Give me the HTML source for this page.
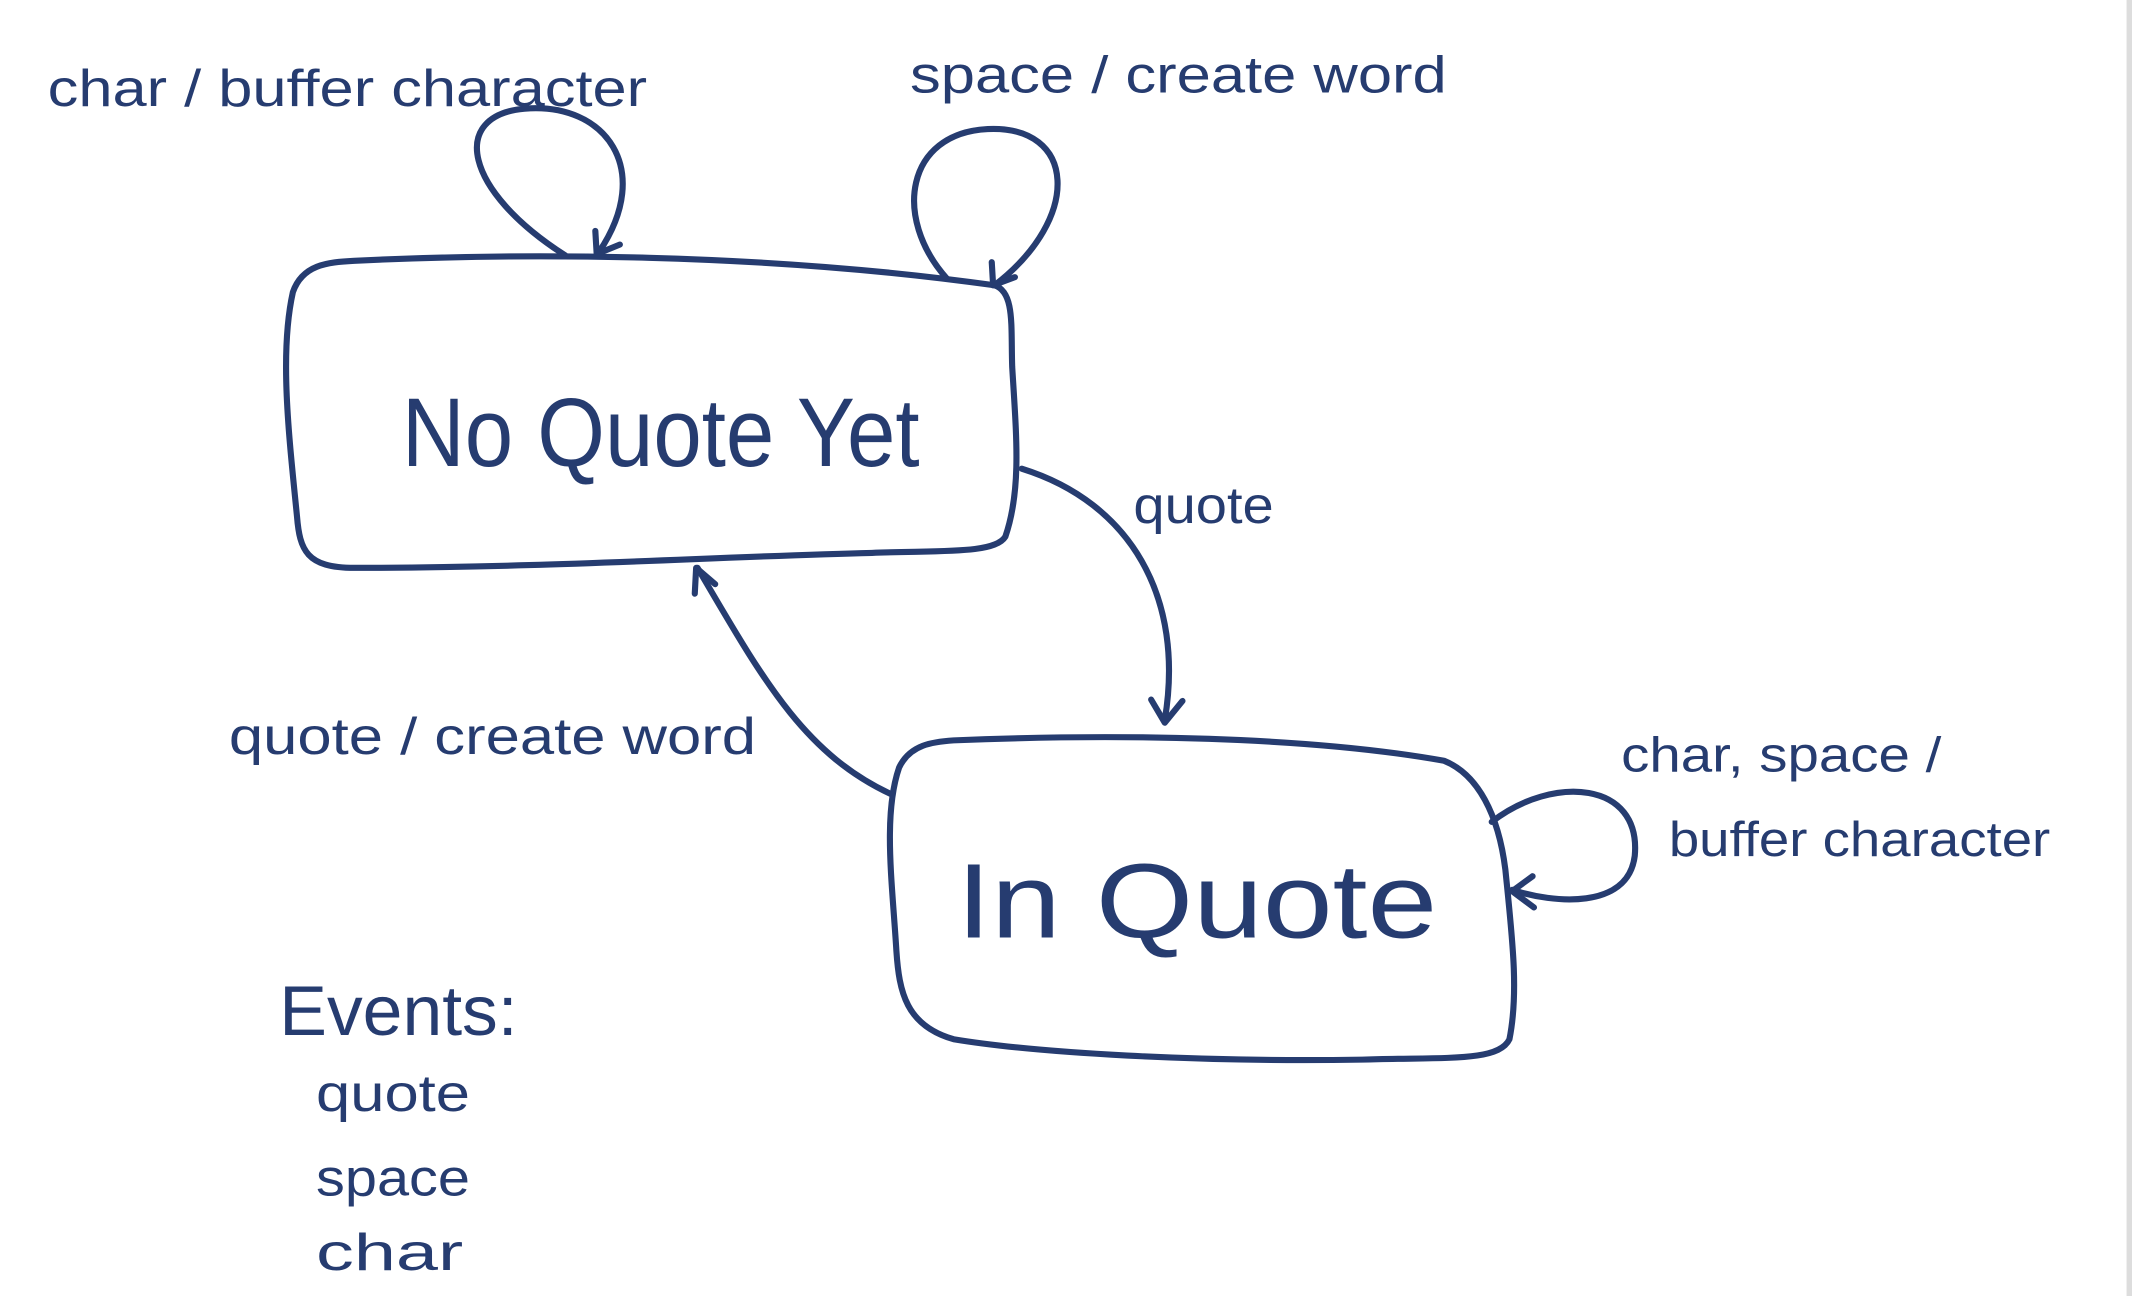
<!DOCTYPE html>
<html><head><meta charset="utf-8"><style>
html,body{margin:0;padding:0;background:#fff;width:2132px;height:1296px;overflow:hidden}
svg{display:block}
text{font-family:"Liberation Sans",sans-serif;fill:#263c70}
</style></head><body>
<svg width="2132" height="1296" viewBox="0 0 1565 954" preserveAspectRatio="none">
<rect x="1561" y="0" width="4" height="954" fill="#ddd"/>
<g fill="none" stroke="#263c70" stroke-width="4.5" stroke-linecap="round" stroke-linejoin="round">
<path d="M260,192 C380,186 560,186 730,210 C745,215 742,240 743,270 C746,320 750,360 738,395 C730,408 690,405 640,407 C520,410 400,418 260,418 C225,418 220,405 218,380 C212,320 205,260 215,215 C222,195 240,193 260,192 Z"/>
<path d="M700,545 C820,540 960,542 1060,560 C1085,570 1100,600 1105,640 C1110,690 1115,730 1108,765 C1100,782 1060,778 1000,780 C880,782 760,775 700,765 C665,755 660,730 658,700 C655,650 648,600 660,565 C668,548 685,546 700,545 Z"/>
<path d="M415,188 C340,140 330,85 385,80 C445,75 480,125 440,185"/>
<path d="M437,170 L438,187 L455,180"/>
<path d="M695,205 C655,160 665,98 725,95 C790,92 795,160 730,210"/>
<path d="M728,193 L729,210 L745,204"/>
<path d="M750,345 C830,370 870,440 855,530"/>
<path d="M845,515 L855,532 L868,516"/>
<path d="M655,585 C590,555 560,500 512,418"/>
<path d="M510,437 L511,418 L525,430"/>
<path d="M1095,605 C1140,570 1205,575 1200,630 C1195,670 1140,665 1110,655"/>
<path d="M1125,645 L1110,656 L1126,668"/>
</g>
<g lengthAdjust="spacingAndGlyphs">
<text x="295" y="343" font-size="72" textLength="380" lengthAdjust="spacingAndGlyphs">No Quote Yet</text>
<text x="702" y="690" font-size="78" textLength="353" lengthAdjust="spacingAndGlyphs">In Quote</text>
<text x="35" y="78" font-size="38" textLength="440" lengthAdjust="spacingAndGlyphs">char / buffer character</text>
<text x="668" y="68" font-size="38" textLength="394" lengthAdjust="spacingAndGlyphs">space / create word</text>
<text x="832" y="385" font-size="38" textLength="103" lengthAdjust="spacingAndGlyphs">quote</text>
<text x="168" y="555" font-size="38" textLength="387" lengthAdjust="spacingAndGlyphs">quote / create word</text>
<text x="1190" y="568" font-size="36" textLength="235" lengthAdjust="spacingAndGlyphs">char, space /</text>
<text x="1225" y="630" font-size="36" textLength="280" lengthAdjust="spacingAndGlyphs">buffer character</text>
<text x="205" y="762" font-size="52" textLength="175" lengthAdjust="spacingAndGlyphs">Events:</text>
<text x="232" y="818" font-size="38" textLength="113" lengthAdjust="spacingAndGlyphs">quote</text>
<text x="232" y="880" font-size="38" textLength="113" lengthAdjust="spacingAndGlyphs">space</text>
<text x="232" y="935" font-size="38" textLength="108" lengthAdjust="spacingAndGlyphs">char</text>
</g>
</svg>
</body></html>
